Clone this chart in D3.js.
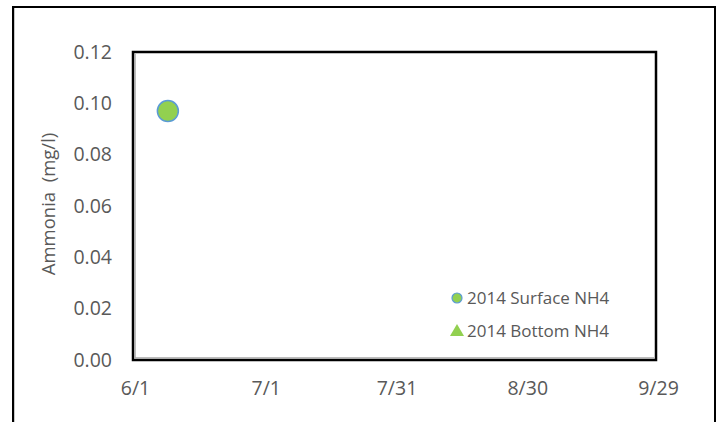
<!DOCTYPE html>
<html>
<head>
<meta charset="utf-8">
<script src="https://cdn.jsdelivr.net/npm/d3@7"></script>
<style>
  body { margin: 0; background: #fff; }
  svg { display: block; font-family: "Open Sans", sans-serif; }
</style>
</head>
<body>
<div id="chart"></div>
<script>
"use strict"

// data
const surfaceDates = ["2014-06-09"];
const surfaceNH4 = [0.097];
const bottomDates = [];
const bottomNH4 = [];
const xTickLabels = ["6/1", "7/1", "7/31", "8/30", "9/29"];
const yTicks = [0, 0.02, 0.04, 0.06, 0.08, 0.10, 0.12];
const seriesNames = ["2014 Surface NH4", "2014 Bottom NH4"];

const width = 722, height = 422;
const margin = { top: 52, right: 66, bottom: 62, left: 133 };
const font = "\"Open Sans\", sans-serif";
const textColor = "#595959";

const parse = d3.timeParse("%Y-%m-%d");
const x0 = parse("2014-06-01"), x1 = d3.timeDay.offset(x0, 120);

const svg = d3.select("#chart").append("svg")
  .attr("width", width)
  .attr("height", height);

// outer chart frame (bottom edge falls outside the picture)
svg.append("path")
  .attr("d", "M13,423 V7 H715 V423")
  .attr("fill", "none")
  .attr("stroke", "#000")
  .attr("stroke-width", 2);
svg.append("line")
  .attr("x1", 14.5).attr("x2", 14.5).attr("y1", 8).attr("y2", 422)
  .attr("stroke", "#c8c8c8").attr("stroke-width", 1);

const x = d3.scaleTime()
  .domain([x0, x1])
  .range([margin.left, width - margin.right]);

const y = d3.scaleLinear()
  .domain([0, 0.12])
  .range([height - margin.bottom, margin.top]);

// plot area border
svg.append("rect")
  .attr("x", x.range()[0])
  .attr("y", y.range()[1])
  .attr("width", x.range()[1] - x.range()[0])
  .attr("height", y.range()[0] - y.range()[1])
  .attr("fill", "none")
  .attr("stroke", "#000")
  .attr("stroke-width", 2.5);
// gray axis lines just inside
svg.append("path")
  .attr("d", `M${x.range()[0] + 2},${y.range()[1] + 2} V${y.range()[0] - 2} H${x.range()[1] - 2}`)
  .attr("fill", "none")
  .attr("stroke", "#a6a6a6")
  .attr("stroke-width", 1.5);

// y axis
const yAxis = d3.axisLeft(y)
  .tickValues(yTicks)
  .tickFormat(d3.format(".2f"))
  .tickSize(0)
  .tickPadding(21);
svg.append("g")
  .attr("transform", `translate(${margin.left},0)`)
  .call(yAxis)
  .call(g => g.select(".domain").remove())
  .selectAll("text")
    .attr("fill", textColor)
    .style("font-size", "19.5px")
    .style("font-family", font);

// x axis
const xTickDates = xTickLabels.map((_, i) => d3.timeDay.offset(x0, i * 30));
const xAxis = d3.axisBottom(x)
  .tickValues(xTickDates)
  .tickFormat((d, i) => xTickLabels[i])
  .tickSize(0)
  .tickPadding(21);
svg.append("g")
  .attr("transform", `translate(2,${height - margin.bottom})`)
  .call(xAxis)
  .call(g => g.select(".domain").remove())
  .selectAll("text")
    .attr("fill", textColor)
    .style("font-size", "19.5px")
    .style("font-family", font);

// y label
svg.append("text")
  .attr("transform", `translate(55,${(y.range()[0] + y.range()[1]) / 2 - 2}) rotate(-90)`)
  .attr("text-anchor", "middle")
  .attr("fill", textColor)
  .style("font-size", "18.5px")
  .style("white-space", "pre")
  .text("Ammonia  (mg/l)");

// surface points
svg.append("g")
  .selectAll("circle")
  .data(surfaceDates.map((d, i) => ({ date: parse(d), v: surfaceNH4[i] })))
  .join("circle")
    .attr("cx", d => x(d.date))
    .attr("cy", d => y(d.v))
    .attr("r", 10.5)
    .attr("fill", "#92d050")
    .attr("stroke", "#5b9bd5")
    .attr("stroke-width", 1.5);

// bottom points (none sampled)
const tri = d3.symbol().type(d3.symbolTriangle).size(90);
svg.append("g")
  .selectAll("path")
  .data(bottomDates.map((d, i) => ({ date: parse(d), v: bottomNH4[i] })))
  .join("path")
    .attr("transform", d => `translate(${x(d.date)},${y(d.v)})`)
    .attr("d", tri)
    .attr("fill", "#92d050");

// legend
const legend = svg.append("g").attr("transform", "translate(457,298)");
const items = legend.selectAll("g")
  .data(seriesNames)
  .join("g")
    .attr("transform", (d, i) => `translate(0,${i * 33})`);
items.each(function(d, i) {
  const g = d3.select(this);
  if (i === 0) {
    g.append("circle").attr("r", 5)
      .attr("fill", "#92d050").attr("stroke", "#5b9bd5").attr("stroke-width", 1.2);
  } else {
    g.append("path").attr("d", d3.symbol().type(d3.symbolTriangle).size(85))
      .attr("transform", "translate(0,1)")
      .attr("fill", "#92d050");
  }
  g.append("text")
    .attr("x", 10)
    .attr("dy", "0.35em")
    .attr("fill", textColor)
    .style("font-size", "17px")
    .style("font-family", font)
    .text(d);
});
</script>
</body>
</html>
